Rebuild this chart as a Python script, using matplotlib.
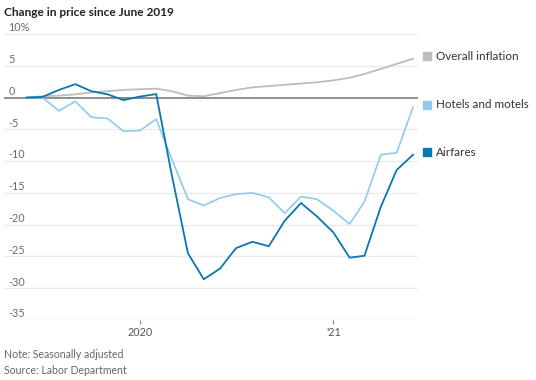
import matplotlib
matplotlib.use('Agg')
import matplotlib.pyplot as plt
import matplotlib.transforms as mtransforms
import pandas as pd

# ----- DATA -----
months = pd.date_range('2019-06-01', '2021-06-01', freq='MS')

overall_inflation = [0.0, 0.2, 0.3, 0.5, 0.8, 1.0, 1.2, 1.3, 1.4, 1.0, 0.3, 0.2, 0.7,
                     1.2, 1.6, 1.8, 2.0, 2.2, 2.4, 2.7, 3.1, 3.7, 4.5, 5.3, 6.1]
hotels_motels = [0.0, 0.0, -2.1, -0.6, -3.1, -3.3, -5.3, -5.2, -3.4, -9.6, -16.0, -17.0, -15.8,
                 -15.2, -15.0, -15.7, -18.2, -15.6, -16.0, -17.8, -19.9, -16.4, -9.0, -8.7, -1.5]
airfares = [0.0, 0.1, 1.2, 2.1, 1.0, 0.5, -0.4, 0.15, 0.55, -12.0, -24.5, -28.6, -26.9,
            -23.7, -22.7, -23.4, -19.4, -16.6, -18.7, -21.2, -25.2, -24.9, -17.2, -11.4, -9.0]

series_names = ['Overall inflation', 'Hotels and motels', 'Airfares']
series_colors = ['#bdbdbd', '#8ecbef', '#0a77b0']
y_ticks = [10, 5, 0, -5, -10, -15, -20, -25, -30, -35]
x_tick_dates = [pd.Timestamp('2020-01-01'), pd.Timestamp('2021-01-01')]
x_tick_labels = ['2020', "'21"]

# ----- PLOT -----
plt.rcParams['font.family'] = ['Lato', 'DejaVu Sans']

fig = plt.figure(figsize=(5.36, 3.80), dpi=100)
ax = fig.add_axes([0.0075, 0.158, 0.772, 0.7526])

for v in y_ticks:
    if v == 0:
        continue
    ax.axhline(v, color='#ebebeb', lw=1.0, zorder=1)
ax.axhline(0, color='#7a7a7a', lw=1.2, zorder=2)

all_series = [overall_inflation, hotels_motels, airfares]
widths = [1.3, 1.2, 1.3]
for vals, col, w in zip(all_series, series_colors, widths):
    ax.plot(months, vals, color=col, lw=w, zorder=3)

ax.set_ylim(-35, 10)
ax.set_xlim(pd.Timestamp('2019-04-19'), pd.Timestamp('2021-06-10'))

for s in ax.spines.values():
    s.set_visible(False)
ax.set_yticks([])
ax.set_xticks(x_tick_dates)
ax.set_xticklabels(x_tick_labels, fontsize=7.8, color='#555555')
ax.tick_params(axis='x', length=3, width=0.8, color='#888888', pad=2)

# y labels sit just above the gridlines
trans_y = mtransforms.blended_transform_factory(ax.transAxes, ax.transData)
for v in y_ticks:
    lab = f'{v}%' if v == 10 else str(v)
    ax.text(0.01, v + 0.1, lab, transform=trans_y, fontsize=7.8, color='#6a6a6a',
            ha='left', va='bottom')

# end labels
for name, col, vals in zip(series_names, series_colors, all_series):
    y = vals[-1] + 0.4
    ax.plot([1.023], [y], marker='s', ms=5.5, color=col, transform=trans_y, clip_on=False)
    ax.text(1.045, y, name, transform=trans_y, fontsize=8.4, color='#333333',
            ha='left', va='center')

fig.text(0.008, 0.968, 'Change in price since June 2019', fontsize=8.6, fontweight='bold',
         color='#222222', ha='left', va='center')
fig.text(0.008, 0.066, 'Note: Seasonally adjusted', fontsize=7.6, color='#666666',
         ha='left', va='center')
fig.text(0.008, 0.026, 'Source: Labor Department', fontsize=7.6, color='#666666',
         ha='left', va='center')

fig.savefig('out.png', dpi=100)
